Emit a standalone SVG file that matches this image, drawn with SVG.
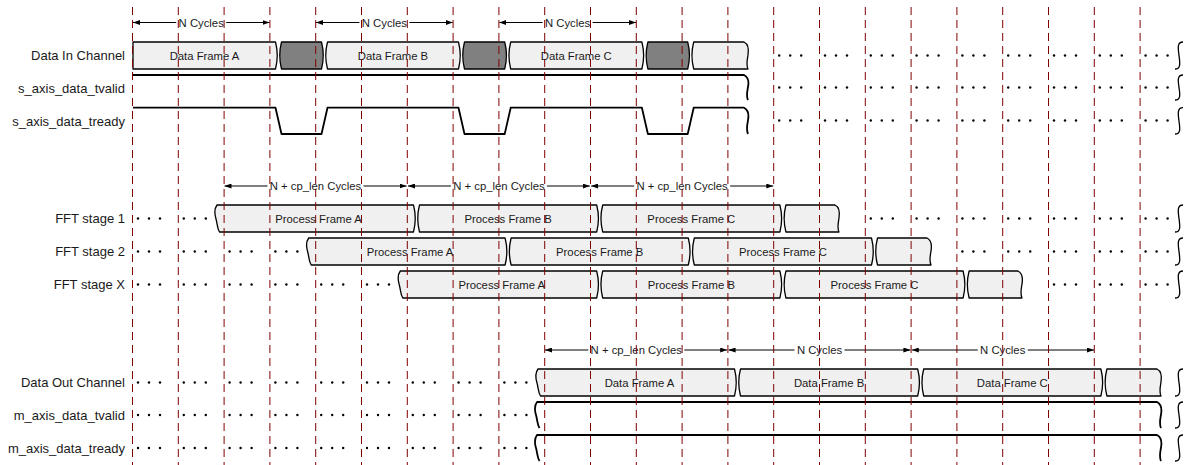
<svg xmlns="http://www.w3.org/2000/svg" xmlns:xlink="http://www.w3.org/1999/xlink" width="1184" height="465" viewBox="0 0 1184 465">
<style>
text{font-family:"Liberation Sans",Arial,Helvetica,sans-serif;fill:#1a1a1a}
.lbl{font-size:13px;text-anchor:end}
.bt{font-size:11.3px;text-anchor:middle}
.frame{fill:#f0f0f0;stroke:#000;stroke-width:1.3;stroke-linejoin:round}
.gapf{fill:#808080;stroke:#000;stroke-width:1.3;stroke-linejoin:round}
.sig{fill:none;stroke:#000;stroke-width:1.8;stroke-linejoin:round}
.brk{fill:none;stroke:#000;stroke-width:1.3}
.arr{stroke:#000;stroke-width:1;fill:none;marker-start:url(#ah);marker-end:url(#ah)}
.bg{fill:#fff}
.grid line{stroke:#800000;stroke-width:1;stroke-dasharray:8 5}
.dots circle{fill:#000}
</style>
<defs>
<marker id="ah" markerUnits="userSpaceOnUse" markerWidth="7" markerHeight="5" refX="7" refY="2.5" orient="auto-start-reverse"><path d="M0,0 L7,2.5 L0,5 z" fill="#000"/></marker>
<g id="d3" class="dots"><circle cx="5.5" cy="0" r="1.2"/><circle cx="16.5" cy="0" r="1.2"/><circle cx="27.5" cy="0" r="1.2"/></g>
</defs>

<g id="connectors">
<line class="arr" x1="133" y1="22.5" x2="269.5" y2="22.5"/>
<line class="arr" x1="316" y1="22.5" x2="452.7" y2="22.5"/>
<line class="arr" x1="499.3" y1="22.5" x2="636" y2="22.5"/>
<rect class="bg" x="176.2" y="16" width="50" height="13"/>
<rect class="bg" x="359.4" y="16" width="50" height="13"/>
<rect class="bg" x="542.6" y="16" width="50" height="13"/>
<text class="bt" x="201.2" y="26.6">N Cycles</text>
<text class="bt" x="384.4" y="26.6">N Cycles</text>
<text class="bt" x="567.6" y="26.6">N Cycles</text>

<line class="arr" x1="224.5" y1="186" x2="406.6" y2="186"/>
<line class="arr" x1="408" y1="186" x2="589.8" y2="186"/>
<line class="arr" x1="591.2" y1="186" x2="773.3" y2="186"/>
<rect class="bg" x="267.5" y="179.5" width="96" height="13"/>
<rect class="bg" x="450.9" y="179.5" width="96" height="13"/>
<rect class="bg" x="634.1" y="179.5" width="96" height="13"/>
<text class="bt" x="315.5" y="190">N + cp_len Cycles</text>
<text class="bt" x="498.9" y="190">N + cp_len Cycles</text>
<text class="bt" x="682.1" y="190">N + cp_len Cycles</text>

<line class="arr" x1="545" y1="350" x2="727.2" y2="350"/>
<line class="arr" x1="728.6" y1="350" x2="910.4" y2="350"/>
<line class="arr" x1="911.8" y1="350" x2="1094" y2="350"/>
<rect class="bg" x="588.3" y="343.5" width="96" height="13"/>
<rect class="bg" x="794.5" y="343.5" width="50" height="13"/>
<rect class="bg" x="977.7" y="343.5" width="50" height="13"/>
<text class="bt" x="636.3" y="354">N + cp_len Cycles</text>
<text class="bt" x="819.5" y="354">N Cycles</text>
<text class="bt" x="1002.7" y="354">N Cycles</text>
</g>

<g id="data-in-channel">
<text class="lbl" x="125" y="60">Data In Channel</text>
<path class="frame" d="M133,42 L275.5,42 Q279,55.5 275.5,69 L133,69 Z"/>
<path class="gapf" d="M281.5,42 L321.5,42 Q325,55.5 321.5,69 L281.5,69 Q278,55.5 281.5,42 Z"/>
<path class="frame" d="M327.5,42 L458.5,42 Q462,55.5 458.5,69 L327.5,69 Q324,55.5 327.5,42 Z"/>
<path class="gapf" d="M464.5,42 L504.7,42 Q508.2,55.5 504.7,69 L464.5,69 Q461,55.5 464.5,42 Z"/>
<path class="frame" d="M510.7,42 L641.9,42 Q645.4,55.5 641.9,69 L510.7,69 Q507.2,55.5 510.7,42 Z"/>
<path class="gapf" d="M647.9,42 L687.7,42 Q691.2,55.5 687.7,69 L647.9,69 Q644.4,55.5 647.9,42 Z"/>
<path class="frame" d="M693.7,42 L744,42 c4,2 5,7 4,13 c-1,6 -2,10 0,14 L693.7,69 Q690.2,55.5 693.7,42 Z"/>
<text class="bt" x="204.5" y="59.5">Data Frame A</text>
<text class="bt" x="393" y="59.5">Data Frame B</text>
<text class="bt" x="576.3" y="59.5">Data Frame C</text>
</g>

<g id="s-axis-data-tvalid">
<text class="lbl" x="125" y="93">s_axis_data_tvalid</text>
<path class="sig" d="M133,75 L744,75 c4,2 5,7 4,12 c-1,6 -2,9 0,13"/>
</g>

<g id="s-axis-data-tready">
<text class="lbl" x="125" y="126">s_axis_data_tready</text>
<path class="sig" d="M133,107.7 L275.5,107.7 L281.5,134 L321.5,134 L327.5,107.7 L458.5,107.7 L464.5,134 L504.7,134 L510.7,107.7 L641.9,107.7 L647.9,134 L687.7,134 L693.7,107.7 L744,107.7 c4,2 5,7 4,12.5 c-1,6 -2,9.5 0,13.8"/>
</g>

<g id="fft-stage-1">
<text class="lbl" x="125" y="223">FFT stage 1</text>
<path class="frame" d="M217,205 L413.5,205 Q417,218.5 413.5,232 L219.5,232 c-2.5,-4 -2,-8 -3.5,-13 c-1.5,-5 -2,-10 1,-14 Z"/>
<path class="frame" d="M419.5,205 L596.7,205 Q600.2,218.5 596.7,232 L419.5,232 Q416,218.5 419.5,205 Z"/>
<path class="frame" d="M602.7,205 L779.9,205 Q783.4,218.5 779.9,232 L602.7,232 Q599.2,218.5 602.7,205 Z"/>
<path class="frame" d="M785.9,205 L835,205 c4,2 5,7 4,13 c-1,6 -2,10 0,14 L785.9,232 Q782.4,218.5 785.9,205 Z"/>
<text class="bt" x="318.5" y="222.5">Process Frame A</text>
<text class="bt" x="508.1" y="222.5">Process Frame B</text>
<text class="bt" x="691.3" y="222.5">Process Frame C</text>
</g>

<g id="fft-stage-2">
<text class="lbl" x="125" y="256">FFT stage 2</text>
<path class="frame" d="M308.7,238 L505.1,238 Q508.6,251.5 505.1,265 L311.2,265 c-2.5,-4 -2,-8 -3.5,-13 c-1.5,-5 -2,-10 1,-14 Z"/>
<path class="frame" d="M511.1,238 L688.3,238 Q691.8,251.5 688.3,265 L511.1,265 Q507.6,251.5 511.1,238 Z"/>
<path class="frame" d="M694.3,238 L871.5,238 Q875,251.5 871.5,265 L694.3,265 Q690.8,251.5 694.3,238 Z"/>
<path class="frame" d="M877.5,238 L927,238 c4,2 5,7 4,13 c-1,6 -2,10 0,14 L877.5,265 Q874,251.5 877.5,238 Z"/>
<text class="bt" x="410.1" y="255.5">Process Frame A</text>
<text class="bt" x="599.7" y="255.5">Process Frame B</text>
<text class="bt" x="782.9" y="255.5">Process Frame C</text>
</g>

<g id="fft-stage-x">
<text class="lbl" x="125" y="289">FFT stage X</text>
<path class="frame" d="M400.3,271 L596.7,271 Q600.2,284.5 596.7,298 L402.8,298 c-2.5,-4 -2,-8 -3.5,-13 c-1.5,-5 -2,-10 1,-14 Z"/>
<path class="frame" d="M602.7,271 L779.9,271 Q783.4,284.5 779.9,298 L602.7,298 Q599.2,284.5 602.7,271 Z"/>
<path class="frame" d="M785.9,271 L963.1,271 Q966.6,284.5 963.1,298 L785.9,298 Q782.4,284.5 785.9,271 Z"/>
<path class="frame" d="M969.1,271 L1018,271 c4,2 5,7 4,13 c-1,6 -2,10 0,14 L969.1,298 Q965.6,284.5 969.1,271 Z"/>
<text class="bt" x="501.7" y="288.5">Process Frame A</text>
<text class="bt" x="691.3" y="288.5">Process Frame B</text>
<text class="bt" x="874.5" y="288.5">Process Frame C</text>
</g>

<g id="data-out-channel">
<text class="lbl" x="125" y="387">Data Out Channel</text>
<path class="frame" d="M538,369 L734.5,369 Q738,382.5 734.5,396 L540.5,396 c-2.5,-4 -2,-8 -3.5,-13 c-1.5,-5 -2,-10 1,-14 Z"/>
<path class="frame" d="M740.5,369 L917.7,369 Q921.2,382.5 917.7,396 L740.5,396 Q737,382.5 740.5,369 Z"/>
<path class="frame" d="M923.7,369 L1100.9,369 Q1104.4,382.5 1100.9,396 L923.7,396 Q920.2,382.5 923.7,369 Z"/>
<path class="frame" d="M1106.9,369 L1157,369 c4,2 5,7 4,13 c-1,6 -2,10 0,14 L1106.9,396 Q1103.4,382.5 1106.9,369 Z"/>
<text class="bt" x="639.5" y="386.5">Data Frame A</text>
<text class="bt" x="829.1" y="386.5">Data Frame B</text>
<text class="bt" x="1012.3" y="386.5">Data Frame C</text>
</g>

<g id="m-axis-data-tvalid">
<text class="lbl" x="125" y="419.5">m_axis_data_tvalid</text>
<path class="sig" d="M539.5,428 c-2.5,-4 -2,-8 -3.5,-13 c-1.5,-5 -2,-9 1,-13 L1157,402 c4,2 5,7 4,12.5 c-1,6 -2,9.5 0,13.5"/>
</g>

<g id="m-axis-data-tready">
<text class="lbl" x="125" y="452.5">m_axis_data_tready</text>
<path class="sig" d="M539.5,461 c-2.5,-4 -2,-8 -3.5,-13 c-1.5,-5 -2,-9 1,-13 L1157,435 c4,2 5,7 4,12.5 c-1,6 -2,9.5 0,13.5"/>
</g>

<g id="breaks">
<path class="brk" d="M1183,42 C1177,42 1178,48 1179,55.5 C1180,63 1181,69 1175,69"/>
<path class="brk" d="M1183,75 C1177,75 1178,81 1179,87.5 C1180,94 1181,100 1175,100"/>
<path class="brk" d="M1183,107.7 C1177,107.7 1178,114 1179,121 C1180,128 1181,134 1175,134"/>
<path class="brk" d="M1183,205 C1177,205 1178,211 1179,218.5 C1180,226 1181,232 1175,232"/>
<path class="brk" d="M1183,238 C1177,238 1178,244 1179,251.5 C1180,259 1181,265 1175,265"/>
<path class="brk" d="M1183,271 C1177,271 1178,277 1179,284.5 C1180,292 1181,298 1175,298"/>
<path class="brk" d="M1183,369 C1177,369 1178,375 1179,382.5 C1180,390 1181,396 1175,396"/>
<path class="brk" d="M1183,402 C1177,402 1178,408 1179,415 C1180,422 1181,428 1175,428"/>
<path class="brk" d="M1183,435 C1177,435 1178,441 1179,448 C1180,455 1181,461 1175,461"/>
</g>

<g id="ellipses">
<use xlink:href="#d3" x="773.7" y="55.5"/><use xlink:href="#d3" x="819.5" y="55.5"/><use xlink:href="#d3" x="865.3" y="55.5"/><use xlink:href="#d3" x="911.1" y="55.5"/><use xlink:href="#d3" x="956.9" y="55.5"/><use xlink:href="#d3" x="1002.7" y="55.5"/><use xlink:href="#d3" x="1048.5" y="55.5"/><use xlink:href="#d3" x="1094.3" y="55.5"/><use xlink:href="#d3" x="1140.1" y="55.5"/>
<use xlink:href="#d3" x="773.7" y="87.5"/><use xlink:href="#d3" x="819.5" y="87.5"/><use xlink:href="#d3" x="865.3" y="87.5"/><use xlink:href="#d3" x="911.1" y="87.5"/><use xlink:href="#d3" x="956.9" y="87.5"/><use xlink:href="#d3" x="1002.7" y="87.5"/><use xlink:href="#d3" x="1048.5" y="87.5"/><use xlink:href="#d3" x="1094.3" y="87.5"/><use xlink:href="#d3" x="1140.1" y="87.5"/>
<use xlink:href="#d3" x="773.7" y="120.5"/><use xlink:href="#d3" x="819.5" y="120.5"/><use xlink:href="#d3" x="865.3" y="120.5"/><use xlink:href="#d3" x="911.1" y="120.5"/><use xlink:href="#d3" x="956.9" y="120.5"/><use xlink:href="#d3" x="1002.7" y="120.5"/><use xlink:href="#d3" x="1048.5" y="120.5"/><use xlink:href="#d3" x="1094.3" y="120.5"/><use xlink:href="#d3" x="1140.1" y="120.5"/>
<use xlink:href="#d3" x="132.5" y="218.5"/><use xlink:href="#d3" x="178.3" y="218.5"/>
<use xlink:href="#d3" x="865.3" y="218.5"/><use xlink:href="#d3" x="911.1" y="218.5"/><use xlink:href="#d3" x="956.9" y="218.5"/><use xlink:href="#d3" x="1002.7" y="218.5"/><use xlink:href="#d3" x="1048.5" y="218.5"/><use xlink:href="#d3" x="1094.3" y="218.5"/><use xlink:href="#d3" x="1140.1" y="218.5"/>
<use xlink:href="#d3" x="132.5" y="251.5"/><use xlink:href="#d3" x="178.3" y="251.5"/><use xlink:href="#d3" x="224.1" y="251.5"/><use xlink:href="#d3" x="269.9" y="251.5"/>
<use xlink:href="#d3" x="956.9" y="251.5"/><use xlink:href="#d3" x="1002.7" y="251.5"/><use xlink:href="#d3" x="1048.5" y="251.5"/><use xlink:href="#d3" x="1094.3" y="251.5"/><use xlink:href="#d3" x="1140.1" y="251.5"/>
<use xlink:href="#d3" x="132.5" y="284.5"/><use xlink:href="#d3" x="178.3" y="284.5"/><use xlink:href="#d3" x="224.1" y="284.5"/><use xlink:href="#d3" x="269.9" y="284.5"/><use xlink:href="#d3" x="315.7" y="284.5"/><use xlink:href="#d3" x="361.5" y="284.5"/>
<use xlink:href="#d3" x="1048.5" y="284.5"/><use xlink:href="#d3" x="1094.3" y="284.5"/><use xlink:href="#d3" x="1140.1" y="284.5"/>
<use xlink:href="#d3" x="132.5" y="382.5"/><use xlink:href="#d3" x="178.3" y="382.5"/><use xlink:href="#d3" x="224.1" y="382.5"/><use xlink:href="#d3" x="269.9" y="382.5"/><use xlink:href="#d3" x="315.7" y="382.5"/><use xlink:href="#d3" x="361.5" y="382.5"/><use xlink:href="#d3" x="407.3" y="382.5"/><use xlink:href="#d3" x="453.1" y="382.5"/><use xlink:href="#d3" x="498.9" y="382.5"/>
<use xlink:href="#d3" x="132.5" y="415"/><use xlink:href="#d3" x="178.3" y="415"/><use xlink:href="#d3" x="224.1" y="415"/><use xlink:href="#d3" x="269.9" y="415"/><use xlink:href="#d3" x="315.7" y="415"/><use xlink:href="#d3" x="361.5" y="415"/><use xlink:href="#d3" x="407.3" y="415"/><use xlink:href="#d3" x="453.1" y="415"/><use xlink:href="#d3" x="498.9" y="415"/>
<use xlink:href="#d3" x="132.5" y="448"/><use xlink:href="#d3" x="178.3" y="448"/><use xlink:href="#d3" x="224.1" y="448"/><use xlink:href="#d3" x="269.9" y="448"/><use xlink:href="#d3" x="315.7" y="448"/><use xlink:href="#d3" x="361.5" y="448"/><use xlink:href="#d3" x="407.3" y="448"/><use xlink:href="#d3" x="453.1" y="448"/><use xlink:href="#d3" x="498.9" y="448"/>
</g>

<g id="grid" class="grid">
<line x1="132.5" y1="7" x2="132.5" y2="465"/><line x1="178.3" y1="7" x2="178.3" y2="465"/><line x1="224.1" y1="7" x2="224.1" y2="465"/><line x1="269.9" y1="7" x2="269.9" y2="465"/><line x1="315.7" y1="7" x2="315.7" y2="465"/><line x1="361.5" y1="7" x2="361.5" y2="465"/><line x1="407.3" y1="7" x2="407.3" y2="465"/><line x1="453.1" y1="7" x2="453.1" y2="465"/><line x1="498.9" y1="7" x2="498.9" y2="465"/><line x1="544.7" y1="7" x2="544.7" y2="465"/><line x1="590.5" y1="7" x2="590.5" y2="465"/><line x1="636.3" y1="7" x2="636.3" y2="465"/><line x1="682.1" y1="7" x2="682.1" y2="465"/><line x1="727.9" y1="7" x2="727.9" y2="465"/><line x1="773.7" y1="7" x2="773.7" y2="465"/><line x1="819.5" y1="7" x2="819.5" y2="465"/><line x1="865.3" y1="7" x2="865.3" y2="465"/><line x1="911.1" y1="7" x2="911.1" y2="465"/><line x1="956.9" y1="7" x2="956.9" y2="465"/><line x1="1002.7" y1="7" x2="1002.7" y2="465"/><line x1="1048.5" y1="7" x2="1048.5" y2="465"/><line x1="1094.3" y1="7" x2="1094.3" y2="465"/><line x1="1140.1" y1="7" x2="1140.1" y2="465"/>
</g>
</svg>
